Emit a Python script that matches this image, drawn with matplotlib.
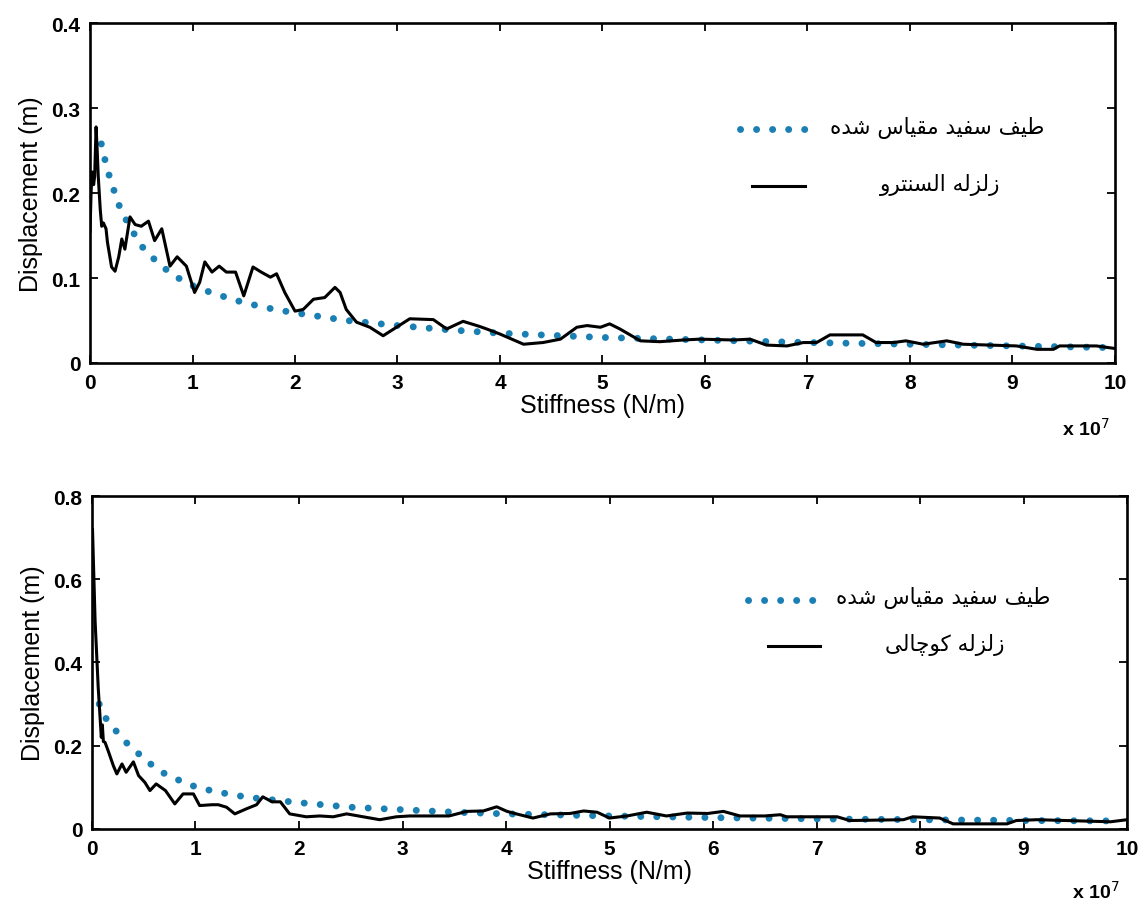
import matplotlib
matplotlib.use("Agg")
import matplotlib.pyplot as plt

# ---- data (stiffness in units of 1e7 N/m, displacement in m) ----
# top: El Centro
elc_k = [0.00, 0.01, 0.02, 0.035, 0.045, 0.059, 0.07, 0.08, 0.10, 0.114, 0.13, 0.156, 0.17,
         0.21, 0.244, 0.28, 0.31, 0.34, 0.39, 0.44, 0.50, 0.57, 0.63, 0.70, 0.78, 0.85, 0.94,
         1.02, 1.07, 1.12, 1.19, 1.26, 1.33, 1.42, 1.50, 1.59, 1.67, 1.76, 1.82, 1.90, 2.00,
         2.08, 2.18, 2.29, 2.39, 2.44, 2.50, 2.60, 2.73, 2.86, 2.99, 3.12, 3.35, 3.48, 3.64,
         3.80, 3.87, 4.00, 4.23, 4.42, 4.59, 4.75, 4.85, 4.98, 5.07, 5.17, 5.37, 5.56, 5.79,
         5.95, 6.28, 6.44, 6.60, 6.80, 6.96, 7.09, 7.22, 7.54, 7.67, 7.84, 7.96, 8.13, 8.36,
         8.52, 9.04, 9.24, 9.40, 9.46, 9.82, 10.0]
elc_d = [0.155, 0.200, 0.225, 0.210, 0.220, 0.278, 0.250, 0.220, 0.180, 0.161, 0.165, 0.158, 0.142,
         0.113, 0.108, 0.125, 0.146, 0.134, 0.172, 0.163, 0.161, 0.167, 0.144, 0.158, 0.114, 0.125, 0.114,
         0.083, 0.095, 0.119, 0.107, 0.114, 0.107, 0.107, 0.079, 0.113, 0.107, 0.101, 0.105, 0.083, 0.061,
         0.063, 0.075, 0.077, 0.089, 0.083, 0.063, 0.048, 0.042, 0.032, 0.042, 0.052, 0.051, 0.040, 0.049,
         0.043, 0.040, 0.034, 0.022, 0.024, 0.028, 0.042, 0.044, 0.042, 0.046, 0.040, 0.026, 0.025, 0.027,
         0.028, 0.027, 0.028, 0.021, 0.020, 0.024, 0.024, 0.033, 0.033, 0.024, 0.024, 0.026, 0.022, 0.026,
         0.022, 0.020, 0.016, 0.016, 0.020, 0.020, 0.017]
white1_k = [0.11, 0.15, 0.20, 0.30, 0.40, 0.50, 0.60, 0.80, 1.0, 1.2, 1.5, 1.8, 2.0, 2.5,
            3.0, 3.5, 4.0, 5.0, 6.0, 7.0, 8.0, 9.0, 10.0]
white1_d = [0.258, 0.237, 0.215, 0.180, 0.158, 0.138, 0.125, 0.104, 0.091, 0.082, 0.071, 0.063, 0.059, 0.050,
            0.044, 0.039, 0.035, 0.030, 0.027, 0.024, 0.022, 0.020, 0.018]

# bottom: Kocaeli
koc_k = [0.005, 0.03, 0.06, 0.08, 0.09, 0.10, 0.11, 0.126, 0.16, 0.206, 0.24, 0.29, 0.33, 0.40,
         0.45, 0.51, 0.56, 0.62, 0.71, 0.80, 0.88, 0.98, 1.04, 1.16, 1.22, 1.30, 1.38, 1.49, 1.59,
         1.65, 1.74, 1.82, 1.91, 2.07, 2.20, 2.33, 2.46, 2.62, 2.78, 2.94, 3.07, 3.30, 3.45, 3.62,
         3.78, 3.91, 4.01, 4.10, 4.26, 4.43, 4.62, 4.75, 4.88, 5.00, 5.17, 5.36, 5.55, 5.75, 5.95,
         6.10, 6.26, 6.50, 6.65, 6.71, 7.20, 7.32, 7.84, 7.93, 8.19, 8.32, 8.84, 8.93, 9.13, 9.84, 10.0]
koc_d = [0.720, 0.500, 0.340, 0.260, 0.220, 0.250, 0.210, 0.208, 0.185, 0.152, 0.132, 0.156, 0.136, 0.161,
         0.128, 0.112, 0.092, 0.108, 0.092, 0.060, 0.084, 0.084, 0.056, 0.058, 0.058, 0.052, 0.036, 0.048, 0.058,
         0.077, 0.065, 0.065, 0.036, 0.029, 0.031, 0.029, 0.036, 0.029, 0.022, 0.029, 0.031, 0.031, 0.031, 0.042,
         0.043, 0.053, 0.042, 0.036, 0.026, 0.036, 0.037, 0.043, 0.040, 0.026, 0.031, 0.040, 0.031, 0.038, 0.037,
         0.042, 0.031, 0.031, 0.034, 0.029, 0.029, 0.020, 0.022, 0.029, 0.026, 0.012, 0.012, 0.020, 0.022, 0.017, 0.022]
white2_k = [0.07, 0.13, 0.22, 0.32, 0.43, 0.54, 0.66, 0.80, 1.0, 1.2, 1.5, 2.0, 2.5, 3.0,
            3.5, 4.0, 5.0, 6.0, 7.0, 8.0, 9.0, 9.9]
white2_d = [0.300, 0.267, 0.239, 0.210, 0.185, 0.161, 0.138, 0.121, 0.101, 0.089, 0.076, 0.063, 0.052, 0.046,
            0.040, 0.036, 0.031, 0.027, 0.024, 0.022, 0.020, 0.019]

xticks = list(range(0, 11))
yticks_top = [0, 0.1, 0.2, 0.3, 0.4]
yticks_bot = [0, 0.2, 0.4, 0.6, 0.8]
label_white = "طیف سفید مقیاس شده"
label_elc = "زلزله السنترو"
label_koc = "زلزله کوچالی"

BLUE = "#1a7fb2"

# matplotlib has no arabic shaping -> map letters to presentation forms, then reverse
FORMS = {
    "\u0627": ("\uFE8D", "\uFE8E", None, None),
    "\u062F": ("\uFEA9", "\uFEAA", None, None),
    "\u0631": ("\uFEAD", "\uFEAE", None, None),
    "\u0632": ("\uFEAF", "\uFEB0", None, None),
    "\u0648": ("\uFEED", "\uFEEE", None, None),
    "\u062A": ("\uFE95", "\uFE96", "\uFE97", "\uFE98"),
    "\u0633": ("\uFEB1", "\uFEB2", "\uFEB3", "\uFEB4"),
    "\u0634": ("\uFEB5", "\uFEB6", "\uFEB7", "\uFEB8"),
    "\u0637": ("\uFEC1", "\uFEC2", "\uFEC3", "\uFEC4"),
    "\u0641": ("\uFED1", "\uFED2", "\uFED3", "\uFED4"),
    "\u0642": ("\uFED5", "\uFED6", "\uFED7", "\uFED8"),
    "\u0644": ("\uFEDD", "\uFEDE", "\uFEDF", "\uFEE0"),
    "\u0645": ("\uFEE1", "\uFEE2", "\uFEE3", "\uFEE4"),
    "\u0646": ("\uFEE5", "\uFEE6", "\uFEE7", "\uFEE8"),
    "\u0647": ("\uFEE9", "\uFEEA", "\uFEEB", "\uFEEC"),
    "\u06CC": ("\uFBFC", "\uFBFD", "\uFBFE", "\uFBFF"),
    "\u06A9": ("\uFB8E", "\uFB8F", "\uFB90", "\uFB91"),
    "\u0686": ("\uFB7A", "\uFB7B", "\uFB7C", "\uFB7D"),
}


def shape_rtl(s):
    out = []
    for i, ch in enumerate(s):
        if ch not in FORMS:
            out.append(ch)
            continue
        prev = s[i - 1] if i > 0 else ""
        nxt = s[i + 1] if i + 1 < len(s) else ""
        iso, fin, ini, med = FORMS[ch]
        jp = prev in FORMS and FORMS[prev][2] is not None
        jn = ini is not None and nxt in FORMS
        if jp and jn:
            out.append(med)
        elif jp:
            out.append(fin)
        elif jn:
            out.append(ini)
        else:
            out.append(iso)
    return "".join(reversed(out))


plt.rcParams["font.family"] = ["Liberation Sans", "DejaVu Sans"]

fig = plt.figure(figsize=(11.47, 9.03), dpi=100)
ax1 = fig.add_axes([0.0785, 0.597, 0.8935, 0.376])
ax2 = fig.add_axes([0.0802, 0.081, 0.9024, 0.3686])

dot_style = dict(color=BLUE, lw=5.0, ls=(0, (0.01, 2.3)), dash_capstyle="round")
line_style = dict(color="black", lw=2.2)


def style_axes(ax, yticks, ylim):
    ax.set_xlim(0, 10)
    ax.set_ylim(*ylim)
    ax.set_xticks(xticks)
    ax.set_xticklabels([str(t) for t in xticks])
    ax.set_yticks(yticks)
    ax.set_yticklabels(["0" if t == 0 else "%g" % t for t in yticks])
    ax.tick_params(direction="in", top=True, right=True, length=6, width=1.3,
                   labelsize=15, pad=7)
    for lab in ax.get_xticklabels() + ax.get_yticklabels():
        lab.set_fontweight("bold")
    for sp in ax.spines.values():
        sp.set_linewidth(1.9)
    ax.set_xlabel("Stiffness (N/m)", fontsize=18, labelpad=1)
    ax.set_ylabel("Displacement (m)", fontsize=18, labelpad=6)


def legend(ax, dots_x, dot_y, line_x, line_y, t1_x, t1_y, t2_x, t2_y, label2):
    ax.plot(dots_x, [dot_y, dot_y], transform=ax.transAxes, clip_on=False, **dot_style)
    ax.plot(line_x, [line_y, line_y], transform=ax.transAxes, clip_on=False, **line_style)
    ax.text(t1_x, t1_y, shape_rtl(label_white), transform=ax.transAxes, fontsize=15.5,
            family="DejaVu Sans", ha="left", va="center")
    ax.text(t2_x, t2_y, shape_rtl(label2), transform=ax.transAxes, fontsize=15.5,
            family="DejaVu Sans", ha="left", va="center")


# top panel
ax1.plot(white1_k, white1_d, **dot_style)
ax1.plot(elc_k, elc_d, **line_style)
style_axes(ax1, yticks_top, (0, 0.4))
legend(ax1, [0.634, 0.700], 0.688, [0.646, 0.698], 0.521,
       0.722, 0.694, 0.771, 0.526, label_elc)
fig.text(0.926, 0.525, "x 10$^7$", fontsize=14, fontweight="bold", ha="left", va="center")

# bottom panel
ax2.plot(white2_k, white2_d, **dot_style)
ax2.plot(koc_k, koc_d, **line_style)
style_axes(ax2, yticks_bot, (0, 0.8))
legend(ax2, [0.634, 0.700], 0.688, [0.653, 0.703], 0.550,
       0.719, 0.697, 0.766, 0.556, label_koc)
fig.text(0.935, 0.012, "x 10$^7$", fontsize=14, fontweight="bold", ha="left", va="center")

fig.savefig("out.png", dpi=100)
